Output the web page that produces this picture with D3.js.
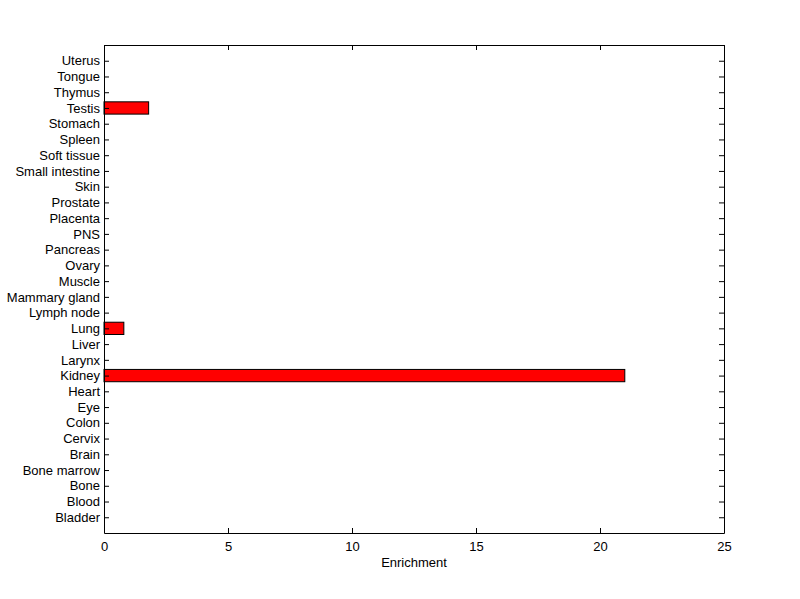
<!DOCTYPE html>
<html>
<head>
<meta charset="utf-8">
<script src="https://cdn.jsdelivr.net/npm/d3@7"></script>
<style>
  body { margin: 0; background: #fff; }
  text { font-family: "Liberation Sans", Arial, sans-serif; font-size: 13px; fill: #000; }
</style>
</head>
<body>
<svg id="grafico"></svg>
<script>
"use strict"

// tecidos, de baixo para cima
const tecidos = ['Bladder', 'Blood', 'Bone', 'Bone marrow', 'Brain', 'Cervix', 'Colon', 'Eye',
  'Heart', 'Kidney', 'Larynx', 'Liver', 'Lung', 'Lymph node', 'Mammary gland', 'Muscle',
  'Ovary', 'Pancreas', 'PNS', 'Placenta', 'Prostate', 'Skin', 'Small intestine', 'Soft tissue',
  'Spleen', 'Stomach', 'Testis', 'Thymus', 'Tongue', 'Uterus'];
const enriquecimento = [0, 0, 0, 0, 0, 0, 0, 0,
  0, 21, 0, 0, 0.8, 0, 0, 0,
  0, 0, 0, 0, 0, 0, 0, 0,
  0, 0, 1.8, 0, 0, 0];
const ticksX = [0, 5, 10, 15, 20, 25];

function iniciar(){
  const largura = 800;
  const altura = 599;
  const margem = { esquerda: 104, direita: 76, superior: 45, inferior: 66 };
  const larguraPlotagem = largura - margem.esquerda - margem.direita;
  const alturaPlotagem = altura - margem.superior - margem.inferior;

  const dados = tecidos.map((nome, i) => ({ nome: nome, valor: enriquecimento[i], pos: i + 1 }));

  const svg = d3.select('#grafico').attr('width', largura).attr('height', altura);
  const plotagem = svg.append('g')
                      .attr('transform', `translate(${margem.esquerda}, ${margem.superior})`);

  const x = d3.scaleLinear().domain([0, 25]).range([0, larguraPlotagem]);
  const y = d3.scaleLinear().domain([0, tecidos.length + 1]).range([alturaPlotagem, 0]);
  const passo = y(0) - y(1);
  const alturaBarra = passo * 0.78;

  // barras
  plotagem.selectAll('.barra')
    .data(dados.filter(d => d.valor > 0))
    .enter()
      .append('rect')
      .classed('barra', true)
      .attr('x', x(0))
      .attr('y', d => y(d.pos) - alturaBarra / 2)
      .attr('width', d => x(d.valor) - x(0))
      .attr('height', alturaBarra)
      .attr('fill', '#ff0000')
      .attr('stroke', '#000')
      .attr('stroke-width', 1);

  // eixos com ticks para dentro
  const eixoBaixo = d3.axisBottom(x).tickValues(ticksX).tickSizeInner(-5).tickSizeOuter(0).tickPadding(9);
  const eixoCima = d3.axisTop(x).tickValues(ticksX).tickSizeInner(-5).tickSizeOuter(0).tickFormat('');
  const eixoEsq = d3.axisLeft(y).tickValues(dados.map(d => d.pos)).tickSizeInner(-5).tickSizeOuter(0)
                    .tickPadding(4).tickFormat(p => tecidos[p - 1]);
  const eixoDir = d3.axisRight(y).tickValues(dados.map(d => d.pos)).tickSizeInner(-5).tickSizeOuter(0).tickFormat('');

  const gBaixo = plotagem.append('g').attr('transform', `translate(0, ${alturaPlotagem})`).call(eixoBaixo);
  const gCima = plotagem.append('g').call(eixoCima);
  const gEsq = plotagem.append('g').call(eixoEsq);
  const gDir = plotagem.append('g').attr('transform', `translate(${larguraPlotagem}, 0)`).call(eixoDir);

  [gBaixo, gCima, gEsq, gDir].forEach(g => {
    g.selectAll('.domain').attr('stroke', '#000').attr('stroke-width', 1);
    g.selectAll('.tick line').attr('stroke', '#000');
    g.selectAll('text').attr('font-family', '"Liberation Sans", Arial, sans-serif')
      .attr('font-size', 13).attr('fill', '#000');
  });

  plotagem.append('text')
    .attr('x', larguraPlotagem / 2)
    .attr('y', alturaPlotagem + 34)
    .attr('text-anchor', 'middle')
    .text('Enrichment');
}

window.addEventListener('load', iniciar, false);
</script>
</body>
</html>
